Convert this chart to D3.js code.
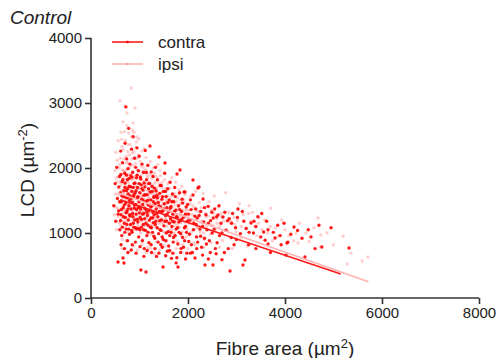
<!DOCTYPE html>
<html>
<head>
<meta charset="utf-8">
<script src="https://cdn.jsdelivr.net/npm/d3@7"></script>
<style>
  html, body { margin: 0; padding: 0; background: #fff; }
  svg { display: block; font-family: "Liberation Sans", Arial, sans-serif; }
</style>
</head>
<body>
<svg id="chart" width="498" height="358"></svg>
<script>
// Fibre area (µm²) vs LCD (µm⁻²) for contralateral and ipsilateral fibres
const contra = [
  [470,1420],[500,1760],[510,1180],[530,2010],[545,1530],[557,554],[570,1340],[585,1870],[595,1050],
  [605,1620],[612,2260],[620,1280],[628,1480],[635,960],[642,1790],[650,2080],[660,615],[665,1390],[672,1560],[680,538],[688,1150],[694,1920],[698,1700],
  [702,2380],[708,1240],[714,1460],[720,2940],[726,1060],[731,1650],[737,2140],[742,1330],[748,1820],[753,880],[758,1540],[764,1990],[770,1200],[776,2610],[782,1420],[788,1720],[794,980],[798,1280],
  [803,2060],[808,1570],[814,1130],[819,1880],[825,1370],[830,740],[836,2290],[842,1640],[847,1010],[853,1470],[858,1930],[864,1250],[870,2480],[876,1560],[881,1090],[887,1760],[893,1380],[898,2150],
  [904,1200],[909,1620],[915,860],[921,2010],[926,1440],[932,1290],[938,1850],[943,1060],[949,2310],[955,1540],[960,1700],[966,1170],[972,1390],[977,1960],[983,940],[989,1480],[994,2180],[999,1310],
  [1005,1620],[1011,1050],[1017,1860],[1023,1370],[1029,431],[1035,1740],[1041,1210],[1047,1520],[1053,2060],[1059,880],[1065,1440],[1071,1660],[1077,1130],[1083,1930],[1089,1300],[1095,1580],[1099,760],
  [1106,1220],[1112,1710],[1118,2270],[1124,1040],[1130,1480],[1134,400],[1140,1360],[1146,1820],[1152,960],[1158,1590],[1164,1270],[1170,2040],[1176,1120],[1182,1430],[1188,1680],[1194,850],
  [1203,1350],[1209,1760],[1216,2338],[1222,1090],[1229,1510],[1235,1230],[1242,1940],[1248,700],[1255,1420],[1261,1640],[1268,1010],[1274,1320],[1281,1870],[1287,1160],[1294,1550],
  [1302,1280],[1309,1690],[1316,920],[1323,1450],[1330,2010],[1337,1180],[1344,1370],[1351,640],[1358,1580],[1365,1080],[1372,1820],[1379,1250],[1386,1470],[1394,990],
  [1402,2169],[1409,1330],[1417,1610],[1424,1050],[1432,1400],[1439,820],[1447,1730],[1454,1200],[1462,1520],[1469,940],[1477,1340],[1485,477],[1492,1640],
  [1503,1110],[1511,1450],[1519,1920],[1526,2077],[1534,1270],[1542,880],[1550,1560],[1558,1180],[1566,1390],[1574,720],[1582,1680],[1592,1020],
  [1605,1330],[1614,1510],[1623,960],[1632,1780],[1641,1220],[1650,1410],[1659,610],[1668,1100],[1677,1600],[1686,1290],[1695,860],
  [1706,1480],[1716,1170],[1726,1700],[1736,960],[1746,1350],[1756,540],[1766,1250],[1773,1908],[1785,1080],[1794,477],
  [1805,1420],[1816,1010],[1827,1620],[1835,1969],[1846,1190],[1857,760],[1868,1330],[1879,1520],[1890,930],
  [1905,1240],[1918,1630],[1931,880],[1938,1630],[1950,1100],[1963,1400],[1976,690],[1989,1180],
  [2010,1290],[2030,980],[2050,1510],[2070,820],[2103,1815],[2103,1585],[2120,1150],[2144,615],[2160,1370],[2175,940],[2190,1230],[2206,1692],
  [2227,1708],[2245,1060],[2262,1330],[2280,780],[2310,1523],[2325,1170],[2340,920],[2350,508],[2370,1280],[2390,1050],
  [2415,1410],[2440,880],[2465,1190],[2490,1320],[2515,508],[2540,1060],[2565,760],[2590,1250],
  [2619,1277],[2650,960],[2680,1150],[2722,1246],[2750,700],[2780,1040],
  [2815,1190],[2866,415],[2890,930],[2920,1300],[2950,820],[2980,1080],
  [3030,1370],[3080,990],[3134,508],[3175,585],[3200,1070],[3250,820],[3300,1154],
  [3350,1000],[3400,760],[3440,1250],[3500,940],[3560,1015],[3590,890],
  [3650,1050],[3700,700],[3794,923],[3850,1120],[3920,820],[3980,1150],
  [4020,660],[4041,846],[4060,860],[4186,1092],[4350,920],[4412,630],
  [4536,940],[4620,760],[4760,785],
  [4950,1080],[5320,770],
  [560,1290],[575,1710],[590,1480],[608,1190],[617,1900],[626,1360],[638,1570],[647,1090],[656,1820],[668,1250],[677,1650],[686,1430],[696,1010],
  [704,1770],[716,1550],[723,1310],[733,1890],[740,1130],[751,1680],[762,1370],[768,1600],[779,1060],[786,1840],[797,1500],
  [806,1260],[817,1710],[828,1530],[838,1040],[845,1860],[856,1300],[867,1700],[874,1150],[885,1590],[896,1430],
  [906,1770],[918,1080],[929,1650],[940,1360],[951,1890],[958,1210],[969,1560],[980,1070],[991,1760],
  [1003,1400],[1014,1240],[1026,1830],[1038,1090],[1049,1680],[1061,1290],[1072,1500],[1085,1050],[1096,1770],
  [1108,1380],[1120,1590],[1131,1150],[1143,1930],[1155,1320],[1167,1500],[1179,1010],[1191,1760],
  [1206,1200],[1219,1630],[1232,1400],[1245,1080],[1258,1720],[1271,1230],[1284,1480],[1297,950],
  [1310,1560],[1326,1130],[1341,1650],[1355,1300],[1370,1540],[1384,860],[1399,1420],
  [1414,1190],[1429,1730],[1444,1040],[1459,1330],[1474,1560],[1489,900],
  [1505,1370],[1521,1180],[1537,1640],[1553,1000],[1569,1290],[1585,1470],
  [1601,800],[1617,1150],[1634,1380],[1651,1010],[1668,1480],[1685,1180],
  [1702,930],[1720,1330],[1738,1560],[1756,1060],[1774,1240],[1792,830],
  [1811,1170],[1830,1360],[1849,990],[1868,1210],[1888,1460],
  [1908,780],[1928,1080],[1948,1290],[1970,1010],[1993,1440],
  [2016,870],[2040,1200],[2064,1360],[2090,700],[2115,1050],[2140,1260],[2170,1130],[2200,860],
  [2230,1270],[2260,950],[2300,1100],[2340,1390],[2380,830],[2420,1150],[2460,700],[2500,1000],
  [2550,1370],[2600,850],[2700,1000],[2850,1220],[3000,900],[3150,1180],[3400,1100],[3650,830],
  // lower edge of the cloud and the tail to the right
  [620,820],[690,760],[760,700],[850,820],[930,690],[1010,790],[1090,640],[1160,730],[1240,820],[1320,760],
  [1400,690],[1470,780],[1540,650],[1620,730],[1690,690],[1770,620],[1850,700],[1950,600],[2050,690],[2180,760],
  [2300,660],[2420,600],[2580,680],[2700,590],[2830,760],
  [2520,1230],[2640,1420],[2760,1320],[2900,1150],[3020,1240],[3120,1330],[3260,1010],[3360,1180],[3520,1300],
  [3620,1180],[3760,1010],[3900,960],[4120,980],[4260,1040],[4480,1050],[4700,1120]
];

const ipsi = [
  [480,1280],[495,1960],[505,1600],[515,2240],[525,1050],[535,1790],[548,1380],[560,2420],[572,1690],[582,1160],[592,2050],
  [598,3030],[604,1460],[611,1870],[618,2550],[624,1220],[631,1650],[639,2330],[646,900],[653,1520],[660,2708],[667,1960],[674,1310],[681,2140],[690,1760],[697,1090],
  [701,2954],[706,1580],[712,2420],[718,1350],[724,1900],[730,2080],[736,1180],[742,2846],[748,1680],[754,1440],[760,2250],[766,1010],[772,1780],[778,2538],[784,1560],[790,1260],[796,2010],
  [802,1660],[807,2360],[813,1400],[819,1830],[825,3231],[831,1120],[837,2140],[843,1590],[849,2585],[855,1330],[861,1950],[866,2692],[872,1480],[878,1210],[884,2250],[890,1700],[896,1050],
  [901,1870],[907,2923],[913,1400],[919,2070],[925,1590],[931,1230],[937,2400],[943,1760],[948,2477],[954,1340],[960,1970],[966,1120],[972,1530],[978,2200],[984,1680],[990,2446],[996,1260],
  [1002,1840],[1008,1450],[1014,2100],[1020,1000],[1026,1620],[1032,1890],[1038,1330],[1044,2260],[1050,1180],[1056,1560],[1062,1740],[1068,900],[1074,2010],[1080,1420],[1086,1280],[1092,1650],[1098,2300],
  [1104,1520],[1110,1110],[1116,1960],[1122,1370],[1128,1760],[1134,2160],[1140,1240],[1146,1580],[1152,1020],[1158,1880],[1164,1430],[1170,1650],[1176,780],[1182,2050],[1188,1300],[1194,1530],
  [1203,1780],[1210,1180],[1216,1460],[1223,2100],[1230,1610],[1236,980],[1243,1350],[1250,1840],[1256,1520],[1263,1120],[1270,1700],[1276,1410],[1283,2000],[1290,1250],[1296,1600],
  [1303,1450],[1310,1920],[1317,1100],[1324,1640],[1331,1320],[1338,1790],[1345,860],[1352,1500],[1359,1230],[1366,1700],[1373,1400],[1380,2050],[1387,1150],[1394,1560],
  [1403,1310],[1411,1760],[1419,1060],[1427,1490],[1435,1880],[1443,1220],[1451,1620],[1459,940],[1467,1380],[1475,1700],[1483,1150],[1491,1450],
  [1502,1560],[1510,1290],[1518,1820],[1526,1010],[1534,1430],[1542,1680],[1550,1200],[1558,1510],[1566,880],[1574,1340],[1582,1760],[1592,1140],
  [1604,1480],[1613,1250],[1622,1690],[1631,1050],[1640,1390],[1649,1560],[1658,1170],[1667,1850],[1676,1320],[1685,980],[1694,1500],
  [1705,1260],[1715,1610],[1725,1110],[1735,1430],[1745,1780],[1755,1190],[1765,1360],[1775,870],[1785,1540],[1795,1220],
  [1806,1380],[1817,1670],[1828,1090],[1839,1300],[1850,1500],[1861,1160],[1872,1720],[1883,1020],[1894,1350],
  [1906,1240],[1918,1470],[1930,1080],[1942,1590],[1954,1300],[1966,940],[1978,1420],[1990,1200],
  [2012,1350],[2030,1150],[2048,1560],[2066,1010],[2084,1280],[2102,1420],[2120,850],[2138,1200],[2156,1640],[2174,1090],[2192,1330],
  [2215,1240],[2235,1470],[2255,1020],[2275,1390],[2295,1150],[2315,1610],[2335,900],[2355,1300],[2380,1100],
  [2410,1260],[2435,1480],[2460,980],[2485,1350],[2510,1120],[2540,1570],[2570,1030],[2595,1220],
  [2620,1400],[2650,1100],[2680,1300],[2710,880],[2740,1180],[2775,1620],
  [2810,1050],[2840,1320],[2880,1150],[2910,760],[2950,1240],[2990,1020],
  [3020,1190],[3060,1450],[3100,930],[3140,1280],[3190,1070],[3220,800],[3260,1420],[3290,1180],
  [3330,1320],[3380,1100],[3420,960],[3470,1230],[3520,1050],[3580,1200],
  [3640,1000],[3700,1380],[3740,880],[3800,1080],[3860,950],[3930,1200],
  [4000,1050],[4080,960],[4180,880],[4230,1000],[4268,846],[4300,1150],[4430,1000],
  [4500,870],[4600,1080],[4680,1230],[4720,785],[4740,970],
  [4865,1000],[5000,820],[5200,950],[5280,523],[5360,690],[5590,570],[5710,630],
  [510,1400],[520,1850],[540,2120],[555,1250],[565,1590],[578,2000],[588,1350],[597,1780],
  [607,2150],[615,1120],[623,1740],[633,2440],[641,1400],[650,1970],[658,1180],[664,2280],[671,1620],[679,1850],[687,1350],[693,2560],
  [703,1960],[710,1230],[716,1720],[722,2180],[728,1500],[734,1980],[739,2650],[746,1300],[752,1830],[757,2080],[763,1610],[769,2360],[775,1250],[781,1910],[787,1690],[793,2200],
  [800,1480],[811,2050],[817,1280],[823,1720],[829,2480],[834,1510],[840,1830],[846,1180],[852,2230],[859,1640],[868,2040],[875,1390],[882,1830],[888,2550],[894,1570],
  [903,2160],[911,1290],[917,1720],[923,2310],[935,1540],[946,1890],[952,1190],[958,2150],[970,1690],[976,1410],[986,1940],[998,1550],
  [1010,1760],[1018,1200],[1030,2040],[1042,1590],[1052,1350],[1060,1950],[1070,1580],[1082,1800],[1094,1120],
  [1102,1690],[1114,1340],[1126,1970],[1138,1480],[1150,1750],[1162,1180],[1174,1850],[1186,1560],[1198,1310],
  [1213,1900],[1226,1420],[1240,1640],[1253,1130],[1266,1880],[1279,1580],[1292,1350],
  [1306,1760],[1320,1250],[1334,1540],[1349,1870],[1363,1080],[1377,1620],[1391,1320],
  [1405,1560],[1421,1960],[1437,1150],[1453,1420],[1469,1780],[1485,1020],
  [1500,1340],[1516,1640],[1532,1220],[1548,1480],[1564,1100],[1580,1570],[1597,1320],
  [1614,1780],[1632,1200],[1650,1480],[1668,1050],[1686,1390],
  [1704,1590],[1722,1000],[1740,1280],[1760,1480],[1780,1130],
  [1800,1600],[1822,1250],[1844,1450],[1866,960],[1888,1270],
  [1912,1520],[1936,1160],[1960,1350],[1985,1060],
  [2010,1230],[2040,1450],[2070,1180],[2100,1050],[2130,1380],[2165,1250],[2200,1080],[2240,1330],[2280,1180],[2320,1000],[2370,1250],
  [2420,1400],[2470,1120],[2530,1300],[2600,1150],[2690,1250],[2780,1050],[2870,1180],[2970,1130],[3100,1100],[3250,1300],[3450,1150],[3700,1100],
  [640,760],[720,880],[800,720],[880,800],[960,740],[1050,820],[1140,700],[1230,760],[1310,680],[1420,740],
  [1520,800],[1640,700],[1760,760],[1880,820],[2000,760],[2150,820],[2330,780],[2480,850],[2650,780]
];

// Linear fits, drawn between their end points
const contraFit = [[600,1510],[5150,370]];
const ipsiFit = [[550,1620],[5720,251]];

const xTicks = [0,2000,4000,6000,8000];
const yTicks = [0,1000,2000,3000,4000];

const seriesNames = ["contra","ipsi"];
const seriesColors = {contra: "#ff1a1a", ipsi: "#ffb3b3"};

const svg = d3.select("#chart");
const x = d3.scaleLinear().domain([0,8000]).range([91,479]);
const y = d3.scaleLinear().domain([0,4000]).range([298,38]);

// points: ipsi underneath, contra on top
svg.append("g").selectAll("circle").data(ipsi).join("circle")
  .attr("cx", d => x(d[0])).attr("cy", d => y(d[1])).attr("r", 1.7)
  .attr("fill", "#ffa0a0").attr("fill-opacity", 0.5);

svg.append("g").selectAll("circle").data(contra).join("circle")
  .attr("cx", d => x(d[0])).attr("cy", d => y(d[1])).attr("r", 1.7)
  .attr("fill", "#ff0000").attr("fill-opacity", 0.9);

const line = d3.line().x(d => x(d[0])).y(d => y(d[1]));
svg.append("path").datum(ipsiFit).attr("d", line)
  .attr("fill", "none").attr("stroke", seriesColors.ipsi).attr("stroke-width", 1.6);
svg.append("path").datum(contraFit).attr("d", line)
  .attr("fill", "none").attr("stroke", seriesColors.contra).attr("stroke-width", 1.6);

// axes
const yAxis = svg.append("g").attr("transform", "translate(91,0)")
  .call(d3.axisLeft(y).tickValues(yTicks).tickSize(6).tickPadding(3).tickFormat(d3.format("d")));
const xAxis = svg.append("g").attr("transform", "translate(0,298)")
  .call(d3.axisBottom(x).tickValues(xTicks).tickSize(6).tickPadding(3).tickFormat(d3.format("d")));
[yAxis, xAxis].forEach(g => {
  g.select(".domain").attr("stroke", "#333").attr("stroke-width", 1.6);
  g.selectAll(".tick line").attr("stroke", "#333").attr("stroke-width", 1.6);
  g.selectAll(".tick text").attr("fill", "#222").style("font-size", "15px")
    .style("font-family", "'Liberation Sans', Arial, sans-serif");
});
yAxis.select(".domain").attr("d", "M0,38V298");
xAxis.select(".domain").attr("d", "M91,0H479");

// axis titles
const xTitle = svg.append("text").attr("x", 285).attr("y", 355)
  .attr("text-anchor", "middle").attr("fill", "#222").style("font-size", "19px");
xTitle.append("tspan").text("Fibre area (µm");
xTitle.append("tspan").attr("dy", -7).style("font-size", "13px").text("2");
xTitle.append("tspan").attr("dy", 7).text(")");

const yTitle = svg.append("text").attr("transform", "translate(34,170) rotate(-90)")
  .attr("text-anchor", "middle").attr("fill", "#222").style("font-size", "19px");
yTitle.append("tspan").text("LCD (µm");
yTitle.append("tspan").attr("dy", -7).style("font-size", "13px").text("-2");
yTitle.append("tspan").attr("dy", 7).text(")");

// panel title
svg.append("text").attr("x", 10).attr("y", 24).attr("fill", "#222")
  .style("font-size", "19px").style("font-style", "italic").text("Control");

// legend
const legend = svg.append("g");
seriesNames.forEach((name, i) => {
  const ly = 42 + i * 22;
  legend.append("line").attr("x1", 112).attr("x2", 143).attr("y1", ly).attr("y2", ly)
    .attr("stroke", seriesColors[name]).attr("stroke-width", 1.6);
  legend.append("circle").attr("cx", 127.5).attr("cy", ly).attr("r", 1.3)
    .attr("fill", name === "contra" ? "#ff0000" : "#ff9a9a");
  legend.append("text").attr("x", 158).attr("y", ly + 6).attr("fill", "#222")
    .style("font-size", "17px").text(name);
});
</script>
</body>
</html>
